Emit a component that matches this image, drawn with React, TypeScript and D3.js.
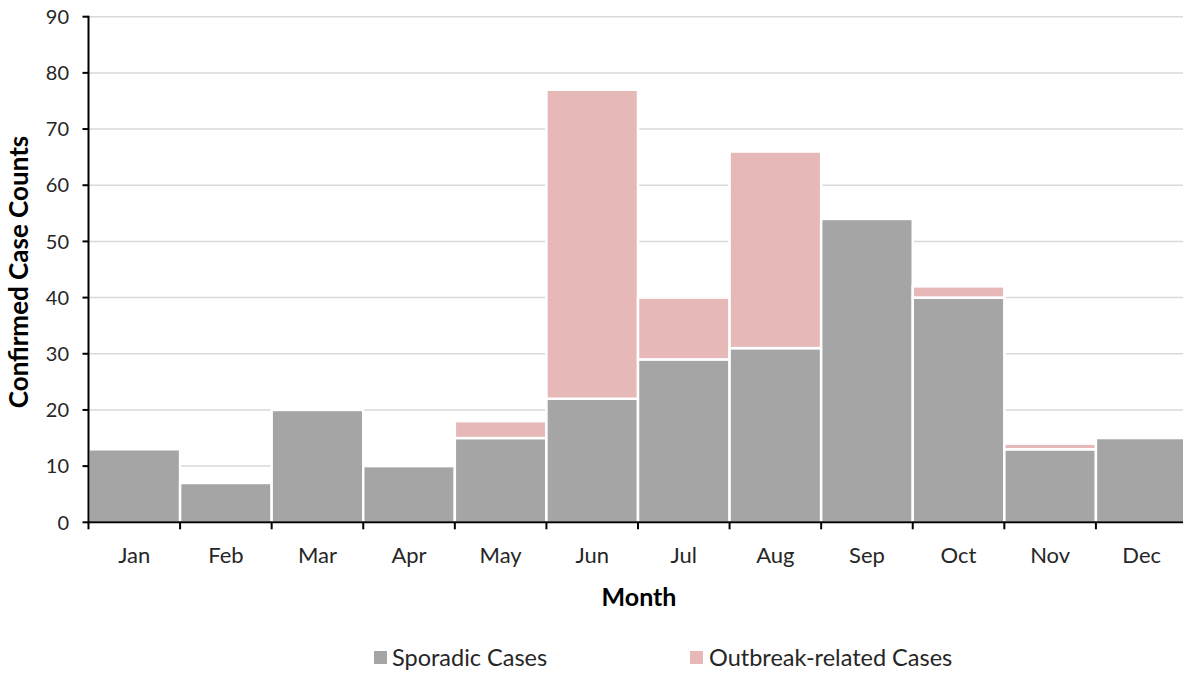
import React from "react";
import * as d3 from "d3";

const months = ["Jan", "Feb", "Mar", "Apr", "May", "Jun", "Jul", "Aug", "Sep", "Oct", "Nov", "Dec"];
const sporadic = [13, 7, 20, 10, 15, 22, 29, 31, 54, 40, 13, 15];
const outbreak = [0, 0, 0, 0, 3, 55, 11, 35, 0, 2, 1, 0];
const yTicks = [0, 10, 20, 30, 40, 50, 60, 70, 80, 90];
const seriesNames = ["Sporadic Cases", "Outbreak-related Cases"];
const colors = ["#a5a5a5", "#e6b8b7"];

export default function App() {
  const W = 1183, H = 677;
  const left = 88.5, right = 1187.5, top = 16.7, bottom = 522.3;
  const x = d3.scaleBand<string>().domain(months).range([left, right]).paddingInner(0).paddingOuter(0);
  const y = d3.scaleLinear().domain([0, 90]).range([bottom, top]);
  const font = "Lato, 'Open Sans', sans-serif";
  const stacked = months.map((m, i) => ({ m, s: sporadic[i], o: outbreak[i] }));
  const bounds = months.map((m) => x(m)!).concat([right]);
  return (
    <svg width={W} height={H} style={{ position: "absolute", left: 0, top: 0, background: "#fff" }} fontFamily={font}>
      {yTicks.filter((t) => t > 0).map((t) => (
        <line key={t} x1={left} x2={W} y1={y(t)} y2={y(t)} stroke="#d9d9d9" strokeWidth={1.5} />
      ))}
      {stacked.map((d) => (
        <g key={d.m}>
          <rect x={x(d.m)!} width={x.bandwidth()} y={y(d.s)} height={y(0) - y(d.s)} fill={colors[0]} stroke="#fff" strokeWidth={2.5} />
          {d.o > 0 && (
            <rect x={x(d.m)!} width={x.bandwidth()} y={y(d.s + d.o)} height={y(d.s) - y(d.s + d.o)} fill={colors[1]} stroke="#fff" strokeWidth={2.5} />
          )}
        </g>
      ))}
      <line x1={left} x2={W} y1={bottom} y2={bottom} stroke="#000" strokeWidth={2} />
      <line x1={left} x2={left} y1={top - 1} y2={bottom + 1} stroke="#000" strokeWidth={2} />
      {yTicks.map((t) => (
        <g key={t}>
          <line x1={left - 6} x2={left} y1={y(t)} y2={y(t)} stroke="#000" strokeWidth={2} />
          <text x={69} y={y(t)} dy="0.36em" textAnchor="end" fontSize={20} fill="#262626">{t}</text>
        </g>
      ))}
      {bounds.map((b, i) => (
        <line key={i} x1={b} x2={b} y1={bottom} y2={bottom + 7} stroke="#000" strokeWidth={2} />
      ))}
      {months.map((m) => (
        <text key={m} x={x(m)! + x.bandwidth() / 2} y={563} textAnchor="middle" fontSize={22} fill="#262626">{m}</text>
      ))}
      <text x={639} y={606} textAnchor="middle" fontSize={25} fontWeight="bold" fill="#000">Month</text>
      <text transform={`translate(28,${272}) rotate(-90)`} textAnchor="middle" fontSize={26} fontWeight="bold" fill="#000">Confirmed Case Counts</text>
      <rect x={374} y={651} width={13} height={13} fill={colors[0]} />
      <text x={392} y={666} fontSize={23.5} fill="#262626">{seriesNames[0]}</text>
      <rect x={690} y={651} width={13} height={13} fill={colors[1]} />
      <text x={709} y={666} fontSize={23.5} fill="#262626">{seriesNames[1]}</text>
    </svg>
  );
}
